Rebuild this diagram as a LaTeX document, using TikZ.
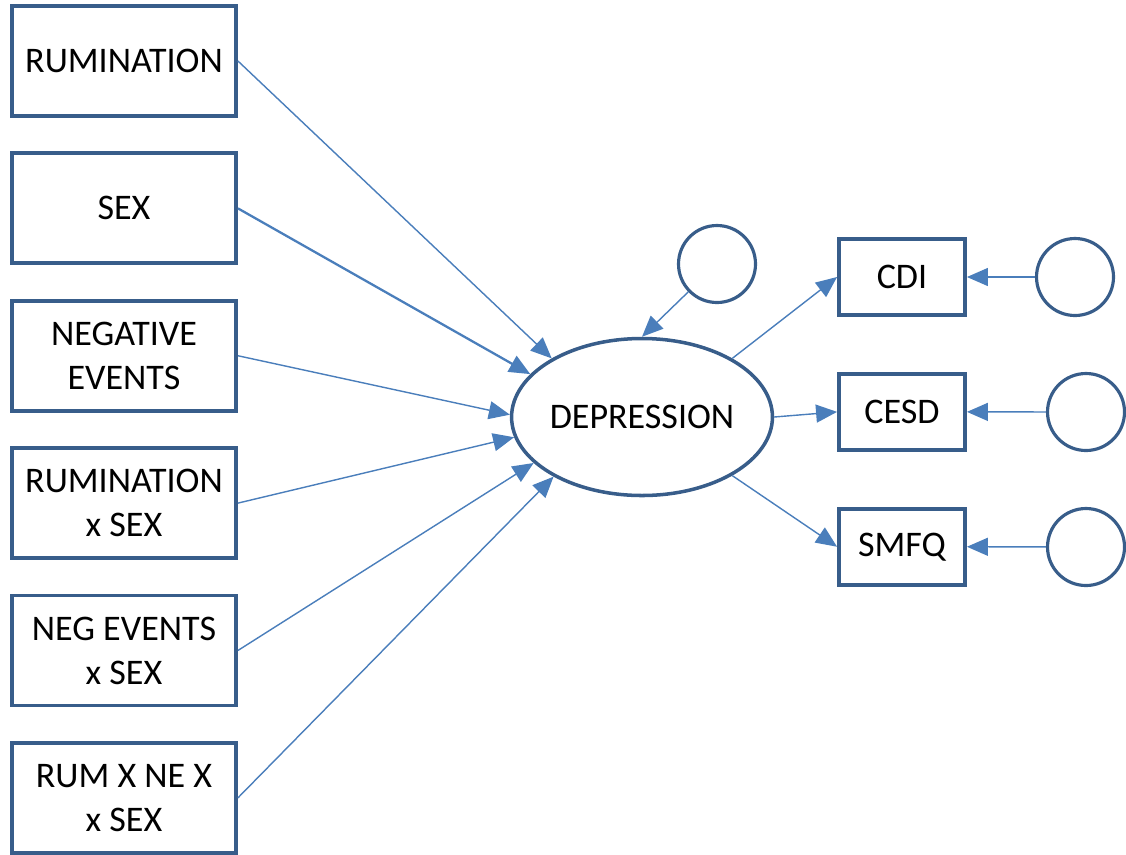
\documentclass[tikz,border=0pt]{standalone}
\usepackage{fontspec}
\setmainfont{Carlito}
\usetikzlibrary{arrows.meta, positioning, shapes.geometric}
\definecolor{boxblue}{RGB}{56, 93, 138}
\definecolor{lineblue}{RGB}{74, 126, 187}

\begin{document}
\begin{tikzpicture}[
  every node/.style={font=\fontsize{20.5}{25}\selectfont},
  var/.style={
    draw=boxblue, fill=white, line width=2.2pt,
    minimum width=4.48cm, minimum height=2.2cm,
    align=center, inner sep=2pt
  },
  ind/.style={
    draw=boxblue, fill=white, line width=2.2pt,
    minimum width=2.52cm, minimum height=1.52cm,
    align=center, inner sep=2pt
  },
  latent/.style={
    ellipse, draw=boxblue, line width=2pt,
    minimum width=4.86cm, minimum height=3.14cm, inner sep=0pt
  },
  err/.style={circle, draw=boxblue, line width=1.8pt, minimum size=1.54cm},
  arrow/.style={-{Triangle[length=0.42cm, width=0.36cm]}, line width=0.8pt, color=lineblue}
]
  \useasboundingbox (0,0) rectangle (22.52,-17.08);

  % Predictors (left column)
  \node[var] (rum) at (2.48,-1.22) {RUMINATION};
  \node[var, below=0.67cm of rum] (sex) {SEX};
  \node[var, below=0.67cm of sex] (neg) {NEGATIVE\\EVENTS};
  \node[var, below=0.67cm of neg] (rumsex) {RUMINATION\\x SEX};
  \node[var, below=0.67cm of rumsex] (negsex) {NEG EVENTS\\x SEX};
  \node[var, below=0.67cm of negsex] (rumnesex) {RUM X NE X\\x SEX};

  % Latent variable and its disturbance
  \node[latent] (dep) at (12.84,-8.34) {DEPRESSION};
  \node[err] (edep) at (14.34,-5.28) {};

  % Indicators (right column)
  \node[ind] (cdi) at (18.04,-5.54) {CDI};
  \node[ind, below=1.1cm of cdi] (cesd) {CESD};
  \node[ind, below=1.1cm of cesd] (smfq) {SMFQ};

  % Measurement errors
  \node[err] (ecdi) at (21.50,-5.54) {};
  \node[err] (ecesd) at (21.72,-8.24) {};
  \node[err] (esmfq) at (21.72,-10.94) {};

  % Paths into depression
  \draw[arrow] (rum.east) -- (dep.147);
  \draw[arrow, line width=1.3pt] (sex.east) -- (dep.159);
  \draw[arrow] (neg.east) -- (dep.179);
  \draw[arrow] (rumsex.east) -- (dep.189);
  \draw[arrow] (negsex.east) -- (dep.203);
  \draw[arrow] (rumnesex.east) -- (dep.214);
  \draw[arrow] (edep) -- (dep.north);

  % Loadings
  \draw[arrow] (dep.33) -- (cdi.west);
  \draw[arrow] (dep.east) -- (cesd.west);
  \draw[arrow] (dep.-33) -- (smfq.west);

  % Errors into indicators
  \draw[arrow] (ecdi) -- (cdi.east);
  \draw[arrow] (ecesd) -- (cesd.east);
  \draw[arrow] (esmfq) -- (smfq.east);

\end{tikzpicture}
\end{document}
